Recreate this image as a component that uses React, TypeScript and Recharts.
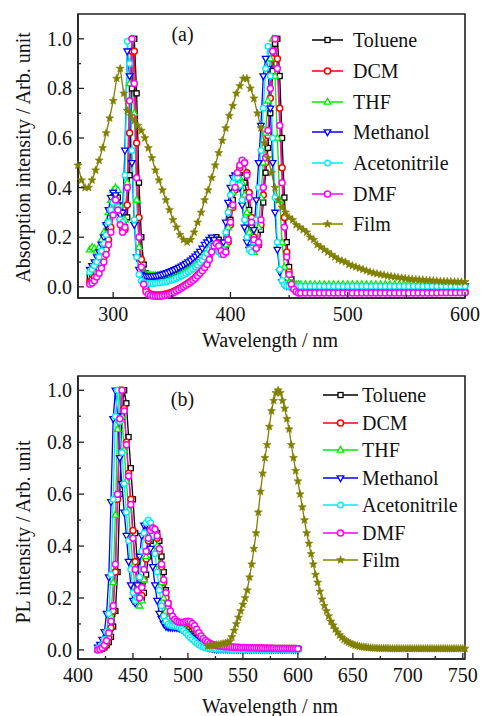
import React from 'react';
import { LineChart, Line, XAxis, YAxis, Legend, ReferenceArea } from 'recharts';

const FONT = "'Liberation Serif', 'Times New Roman', serif";
const AXIS = '#222';

// ---- (a) absorption, solutions ----
const absWavelengths = [
  280, 282, 284, 286, 288, 290, 292, 294, 296, 298,
  300, 302, 304, 306, 308, 310, 312, 314, 316, 318,
  320, 322, 324, 326, 328, 330, 332, 334, 336, 338,
  340, 342, 344, 346, 348, 350, 352, 354, 356, 358,
  360, 362, 364, 366, 368, 370, 372, 374, 376, 378,
  380, 382, 384, 386, 388, 390, 392, 394, 396, 398,
  400, 402, 404, 406, 408, 410, 412, 414, 416, 418,
  420, 422, 424, 426, 428, 430, 432, 434, 436, 438,
  440, 442, 444, 446, 448, 450, 452, 454, 456, 458,
  460, 464, 468, 472, 476, 480, 484, 488, 492, 496,
  500, 504, 508, 512, 516, 520, 524, 528, 532, 536,
  540, 544, 548, 552, 556, 560, 564, 568, 572, 576,
  580, 584, 588, 592, 596, 600,
];

const absToluene = [
  0.04, 0.05, 0.065, 0.08, 0.1, 0.12, 0.15, 0.19, 0.24, 0.3,
  0.36, 0.38, 0.36, 0.3, 0.26, 0.24, 0.28, 0.45, 0.8, 1.0,
  0.78, 0.42, 0.2, 0.09, 0.055, 0.045, 0.043, 0.042, 0.042, 0.042,
  0.043, 0.044, 0.045, 0.047, 0.05, 0.053, 0.057, 0.061, 0.066, 0.071,
  0.076, 0.082, 0.088, 0.094, 0.1, 0.107, 0.115, 0.125, 0.135, 0.15,
  0.165, 0.18, 0.19, 0.195, 0.2, 0.19, 0.17, 0.15, 0.15, 0.19,
  0.27, 0.35, 0.41, 0.44, 0.45, 0.44, 0.42, 0.38, 0.31, 0.24,
  0.19, 0.16, 0.17, 0.23, 0.34, 0.46, 0.56, 0.7, 0.87, 0.98,
  1.0, 0.85, 0.6, 0.36, 0.18, 0.08, 0.03, 0, -0.012, -0.018,
  -0.02, -0.02, -0.02, -0.02, -0.02, -0.02, -0.02, -0.02, -0.02, -0.02,
  -0.02, -0.02, -0.02, -0.02, -0.02, -0.02, -0.02, -0.02, -0.02, -0.02,
  -0.02, -0.02, -0.02, -0.02, -0.02, -0.02, -0.02, -0.02, -0.02, -0.02,
  -0.02, -0.02, -0.02, -0.02, -0.02, -0.02,
];

const absDCM = [
  0.02, 0.03, 0.04, 0.055, 0.07, 0.09, 0.12, 0.15, 0.19, 0.24,
  0.3, 0.35, 0.33, 0.27, 0.23, 0.23, 0.33, 0.62, 0.95, 0.95,
  0.58, 0.28, 0.11, 0.03, -0.01, -0.025, -0.03, -0.032, -0.033, -0.033,
  -0.033, -0.032, -0.03, -0.028, -0.025, -0.022, -0.018, -0.013, -0.008, -0.003,
  0.003, 0.009, 0.015, 0.022, 0.03, 0.038, 0.048, 0.058, 0.07, 0.083,
  0.095, 0.115, 0.145, 0.17, 0.18, 0.17, 0.15, 0.135, 0.14, 0.18,
  0.25, 0.32, 0.39, 0.45, 0.48, 0.5, 0.5, 0.46, 0.38, 0.28,
  0.2, 0.16, 0.17, 0.25, 0.37, 0.5, 0.61, 0.76, 0.92, 1.0,
  0.92, 0.72, 0.48, 0.28, 0.14, 0.06, 0.015, -0.008, -0.018, -0.02,
  -0.02, -0.02, -0.02, -0.02, -0.02, -0.02, -0.02, -0.02, -0.02, -0.02,
  -0.02, -0.02, -0.02, -0.02, -0.02, -0.02, -0.02, -0.02, -0.02, -0.02,
  -0.02, -0.02, -0.02, -0.02, -0.02, -0.02, -0.02, -0.02, -0.02, -0.02,
  -0.02, -0.02, -0.02, -0.02, -0.02, -0.02,
];

const absTHF = [
  0.15, 0.16, 0.155, 0.145, 0.16, 0.19, 0.22, 0.26, 0.3, 0.35,
  0.39, 0.4, 0.39, 0.33, 0.28, 0.27, 0.42, 0.82, 1.0, 0.7,
  0.35, 0.16, 0.08, 0.055, 0.05, 0.048, 0.047, 0.046, 0.046, 0.046,
  0.047, 0.048, 0.05, 0.052, 0.055, 0.058, 0.062, 0.066, 0.07, 0.075,
  0.08, 0.085, 0.09, 0.096, 0.102, 0.11, 0.118, 0.128, 0.14, 0.155,
  0.17, 0.18, 0.185, 0.18, 0.165, 0.15, 0.14, 0.14, 0.17, 0.24,
  0.32, 0.38, 0.42, 0.44, 0.44, 0.42, 0.37, 0.3, 0.22, 0.16,
  0.14, 0.16, 0.24, 0.36, 0.5, 0.62, 0.75, 0.92, 1.0, 0.85,
  0.6, 0.35, 0.18, 0.08, 0.035, 0.018, 0.012, 0.01, 0.01, 0.01,
  0.01, 0.01, 0.01, 0.01, 0.01, 0.01, 0.01, 0.01, 0.01, 0.01,
  0.01, 0.01, 0.01, 0.01, 0.01, 0.01, 0.01, 0.01, 0.01, 0.01,
  0.01, 0.01, 0.01, 0.01, 0.01, 0.01, 0.01, 0.01, 0.01, 0.01,
  0.01, 0.01, 0.01, 0.01, 0.01, 0.01,
];

const absMethanol = [
  0.07, 0.085, 0.1, 0.12, 0.14, 0.17, 0.2, 0.25, 0.31, 0.36,
  0.38, 0.37, 0.33, 0.29, 0.3, 0.55, 0.95, 0.85, 0.5, 0.25,
  0.12, 0.07, 0.05, 0.045, 0.043, 0.042, 0.042, 0.043, 0.044, 0.045,
  0.047, 0.05, 0.053, 0.056, 0.06, 0.064, 0.068, 0.073, 0.078, 0.083,
  0.088, 0.094, 0.1, 0.107, 0.115, 0.123, 0.132, 0.142, 0.155, 0.17,
  0.18, 0.19, 0.2, 0.19, 0.165, 0.145, 0.14, 0.18, 0.26, 0.34,
  0.4, 0.44, 0.45, 0.44, 0.4, 0.33, 0.24, 0.18, 0.15, 0.16,
  0.23, 0.35, 0.5, 0.65, 0.85, 0.92, 0.88, 0.72, 0.5, 0.3,
  0.15, 0.06, 0.02, 0.008, 0.004, 0.003, 0.003, 0.003, 0.003, 0.003,
  0.003, 0.003, 0.003, 0.003, 0.003, 0.003, 0.003, 0.003, 0.003, 0.003,
  0.003, 0.003, 0.003, 0.003, 0.003, 0.003, 0.003, 0.003, 0.003, 0.003,
  0.003, 0.003, 0.003, 0.003, 0.003, 0.003, 0.003, 0.003, 0.003, 0.003,
  0.003, 0.003, 0.003, 0.003, 0.003, 0.003,
];

const absAcetonitrile = [
  0.06, 0.07, 0.085, 0.1, 0.12, 0.145, 0.175, 0.21, 0.26, 0.31,
  0.34, 0.35, 0.32, 0.27, 0.26, 0.45, 0.99, 0.9, 0.55, 0.27,
  0.12, 0.05, 0.025, 0.017, 0.014, 0.013, 0.013, 0.013, 0.014, 0.015,
  0.016, 0.018, 0.02, 0.022, 0.025, 0.028, 0.031, 0.035, 0.039, 0.044,
  0.049, 0.054, 0.06, 0.066, 0.073, 0.08, 0.088, 0.097, 0.107, 0.12,
  0.135, 0.15, 0.165, 0.17, 0.16, 0.14, 0.13, 0.15, 0.22, 0.3,
  0.37, 0.42, 0.44, 0.44, 0.41, 0.35, 0.27, 0.2, 0.15, 0.14,
  0.18, 0.27, 0.4, 0.55, 0.72, 0.88, 0.97, 0.85, 0.6, 0.36,
  0.18, 0.07, 0.025, 0.008, 0.003, 0.002, 0.002, 0.002, 0.002, 0.002,
  0.002, 0.002, 0.002, 0.002, 0.002, 0.002, 0.002, 0.002, 0.002, 0.002,
  0.002, 0.002, 0.002, 0.002, 0.002, 0.002, 0.002, 0.002, 0.002, 0.002,
  0.002, 0.002, 0.002, 0.002, 0.002, 0.002, 0.002, 0.002, 0.002, 0.002,
  0.002, 0.002, 0.002, 0.002, 0.002, 0.002,
];

const absDMF = [
  0.01, 0.015, 0.025, 0.04, 0.055, 0.075, 0.1, 0.13, 0.17, 0.22,
  0.29, 0.35, 0.31, 0.25, 0.22, 0.24, 0.4, 0.75, 1.0, 0.82,
  0.44, 0.2, 0.08, 0.01, -0.02, -0.03, -0.035, -0.037, -0.038, -0.038,
  -0.038, -0.037, -0.035, -0.033, -0.03, -0.027, -0.022, -0.017, -0.012, -0.006,
  0, 0.006, 0.012, 0.02, 0.027, 0.035, 0.045, 0.055, 0.065, 0.078,
  0.09, 0.11, 0.14, 0.165, 0.175, 0.165, 0.145, 0.13, 0.14, 0.19,
  0.26, 0.33, 0.4, 0.46, 0.49, 0.51, 0.5, 0.45, 0.36, 0.26,
  0.19, 0.155, 0.18, 0.27, 0.4, 0.52, 0.63, 0.8, 0.95, 1.0,
  0.88, 0.65, 0.42, 0.24, 0.12, 0.05, 0.01, -0.01, -0.02, -0.025,
  -0.025, -0.025, -0.025, -0.025, -0.025, -0.025, -0.025, -0.025, -0.025, -0.025,
  -0.025, -0.025, -0.025, -0.025, -0.025, -0.025, -0.025, -0.025, -0.025, -0.025,
  -0.025, -0.025, -0.025, -0.025, -0.025, -0.025, -0.025, -0.025, -0.025, -0.025,
  -0.024, -0.024, -0.024, -0.024, -0.024, -0.024,
];

// ---- (a) absorption, film ----
const filmAbsWavelengths = [
  270, 273, 276, 279, 282, 285, 288, 291, 294, 297,
  300, 303, 306, 309, 312, 315, 318, 321, 324, 327,
  330, 333, 336, 339, 342, 345, 348, 351, 354, 357,
  360, 363, 366, 369, 372, 375, 378, 381, 384, 387,
  390, 393, 396, 399, 402, 405, 408, 411, 414, 417,
  420, 423, 426, 429, 432, 435, 438, 441, 444, 447,
  450, 453, 456, 459, 462, 465, 468, 471, 474, 477,
  480, 483, 486, 489, 492, 495, 498, 501, 504, 507,
  510, 513, 516, 519, 522, 525, 528, 531, 534, 537,
  540, 543, 546, 549, 552, 555, 558, 561, 564, 567,
  570, 573, 576, 579, 582, 585, 588, 591, 594, 597,
  600,
];

const filmAbs = [
  0.49, 0.43, 0.4, 0.4, 0.43, 0.47, 0.51, 0.56, 0.62, 0.68,
  0.75, 0.84, 0.88, 0.78, 0.71, 0.69, 0.67, 0.65, 0.63, 0.6,
  0.56, 0.52, 0.47, 0.43, 0.39, 0.35, 0.31, 0.27, 0.24, 0.21,
  0.19, 0.18, 0.19, 0.22, 0.26, 0.3, 0.35, 0.39, 0.44, 0.49,
  0.54, 0.59, 0.64, 0.69, 0.73, 0.78, 0.81, 0.84, 0.84, 0.8,
  0.76, 0.7, 0.64, 0.58, 0.52, 0.46, 0.4, 0.35, 0.32, 0.3,
  0.28, 0.27, 0.25, 0.24, 0.23, 0.22, 0.2, 0.19, 0.17, 0.16,
  0.15, 0.14, 0.13, 0.12, 0.11, 0.105, 0.1, 0.09, 0.085, 0.08,
  0.075, 0.07, 0.065, 0.06, 0.056, 0.053, 0.05, 0.047, 0.044, 0.042,
  0.04, 0.038, 0.036, 0.034, 0.032, 0.031, 0.03, 0.029, 0.028, 0.027,
  0.026, 0.025, 0.024, 0.023, 0.022, 0.022, 0.021, 0.021, 0.02, 0.02,
  0.02,
];

// ---- (b) PL, solutions ----
const plWavelengths = [
  418, 420, 422, 424, 426, 428, 430, 432, 434, 436,
  438, 440, 442, 444, 446, 448, 450, 452, 454, 456,
  458, 460, 462, 464, 466, 468, 470, 472, 474, 476,
  478, 480, 482, 484, 486, 488, 490, 492, 494, 496,
  498, 500, 502, 504, 506, 508, 510, 512, 514, 516,
  518, 520, 522, 524, 526, 528, 530, 532, 534, 536,
  538, 540, 542, 544, 546, 548, 550, 552, 554, 556,
  558, 560, 562, 564, 566, 568, 570, 572, 574, 576,
  578, 580, 582, 584, 586, 588, 590, 592, 594, 596,
  598, 600,
];

const plToluene = [
  0, 0.002, 0.005, 0.01, 0.018, 0.03, 0.05, 0.09, 0.15, 0.3,
  0.6, 0.9, 1.0, 0.95, 0.82, 0.7, 0.58, 0.45, 0.34, 0.25,
  0.2, 0.22, 0.29, 0.36, 0.42, 0.45, 0.46, 0.45, 0.42, 0.36,
  0.3, 0.23, 0.18, 0.14, 0.12, 0.11, 0.105, 0.104, 0.104, 0.105,
  0.105, 0.104, 0.1, 0.09, 0.078, 0.064, 0.05, 0.04, 0.032, 0.026,
  0.021, 0.017, 0.014, 0.012, 0.011, 0.01, 0.009, 0.009, 0.008, 0.008,
  0.008, 0.007, 0.007, 0.007, 0.006, 0.006, 0.006, 0.006, 0.005, 0.005,
  0.005, 0.005, 0.005, 0.005, 0.005, 0.005, 0.005, 0.005, 0.005, 0.005,
  0.004, 0.004, 0.004, 0.004, 0.004, 0.004, 0.004, 0.004, 0.004, 0.004,
  0.004, 0.004,
];

const plDCM = [
  0.002, 0.004, 0.008, 0.015, 0.027, 0.048, 0.085, 0.15, 0.3, 0.58,
  0.88, 1.0, 0.93, 0.8, 0.68, 0.58, 0.46, 0.34, 0.25, 0.2,
  0.21, 0.27, 0.35, 0.42, 0.46, 0.47, 0.46, 0.43, 0.38, 0.32,
  0.26, 0.2, 0.16, 0.13, 0.115, 0.108, 0.105, 0.104, 0.104, 0.105,
  0.105, 0.104, 0.1, 0.092, 0.08, 0.066, 0.053, 0.042, 0.034, 0.028,
  0.023, 0.019, 0.016, 0.014, 0.013, 0.012, 0.011, 0.011, 0.01, 0.01,
  0.01, 0.009, 0.009, 0.009, 0.008, 0.008, 0.008, 0.008, 0.007, 0.007,
  0.007, 0.007, 0.006, 0.006, 0.006, 0.006, 0.006, 0.006, 0.005, 0.005,
  0.005, 0.005, 0.005, 0.005, 0.005, 0.005, 0.005, 0.005, 0.005, 0.005,
  0.004, 0.004,
];

const plTHF = [
  0.003, 0.006, 0.012, 0.022, 0.04, 0.07, 0.13, 0.26, 0.52, 0.85,
  1.0, 0.9, 0.77, 0.65, 0.54, 0.43, 0.32, 0.23, 0.185, 0.17,
  0.19, 0.27, 0.36, 0.43, 0.47, 0.47, 0.45, 0.4, 0.33, 0.26,
  0.2, 0.15, 0.12, 0.105, 0.1, 0.097, 0.095, 0.093, 0.09, 0.085,
  0.078, 0.07, 0.06, 0.05, 0.041, 0.033, 0.026, 0.02, 0.015, 0.011,
  0.008, 0.006, 0.005, 0.005, 0.004, 0.004, 0.004, 0.004, 0.004, 0.004,
  0.003, 0.003, 0.003, 0.003, 0.003, 0.003, 0.003, 0.003, 0.003, 0.003,
  0.003, 0.003, 0.003, 0.003, 0.003, 0.003, 0.003, 0.003, 0.003, 0.003,
  0.003, 0.003, 0.003, 0.003, 0.003, 0.003, 0.003, 0.003, 0.003, 0.003,
  0.003, 0.003,
];

const plMethanol = [
  0.01, 0.02, 0.04, 0.07, 0.14, 0.28, 0.57, 0.89, 1.0, 0.9,
  0.74, 0.64, 0.53, 0.44, 0.34, 0.25, 0.19, 0.18, 0.25, 0.36,
  0.44, 0.48, 0.48, 0.45, 0.39, 0.32, 0.25, 0.19, 0.14, 0.12,
  0.1, 0.09, 0.087, 0.086, 0.086, 0.086, 0.085, 0.083, 0.08, 0.075,
  0.07, 0.062, 0.055, 0.047, 0.04, 0.033, 0.027, 0.022, 0.018, 0.014,
  0.01, 0.007, 0.005, 0.004, 0.003, 0.003, 0.003, 0.003, 0.003, 0.003,
  0.002, 0.002, 0.002, 0.002, 0.002, 0.002, 0.002, 0.002, 0.002, 0.002,
  0.002, 0.002, 0.002, 0.002, 0.002, 0.002, 0.002, 0.002, 0.002, 0.002,
  0.002, 0.002, 0.002, 0.002, 0.002, 0.002, 0.002, 0.002, 0.002, 0.002,
  0.002, 0.002,
];

const plAcetonitrile = [
  0.005, 0.01, 0.02, 0.04, 0.07, 0.14, 0.29, 0.58, 0.9, 1.0,
  0.88, 0.76, 0.64, 0.53, 0.42, 0.31, 0.22, 0.19, 0.2, 0.28,
  0.38, 0.45, 0.49, 0.5, 0.49, 0.44, 0.37, 0.3, 0.23, 0.17,
  0.13, 0.11, 0.1, 0.095, 0.093, 0.092, 0.09, 0.087, 0.082, 0.075,
  0.066, 0.057, 0.048, 0.04, 0.033, 0.026, 0.02, 0.015, 0.011, 0.008,
  0.006, 0.005, 0.004, 0.004, 0.003, 0.003, 0.003, 0.003, 0.003, 0.003,
  0.002, 0.002, 0.002, 0.002, 0.002, 0.002, 0.002, 0.002, 0.002, 0.002,
  0.002, 0.002, 0.002, 0.002, 0.002, 0.002, 0.002, 0.002, 0.002, 0.002,
  0.002, 0.002, 0.002, 0.002, 0.002, 0.002, 0.002, 0.002, 0.002, 0.002,
  0.002, 0.002,
];

const plDMF = [
  0, 0.003, 0.008, 0.018, 0.035, 0.065, 0.11, 0.17, 0.33, 0.6,
  0.89, 1.0, 0.92, 0.79, 0.67, 0.56, 0.43, 0.31, 0.23, 0.2,
  0.24, 0.31, 0.38, 0.43, 0.46, 0.47, 0.465, 0.44, 0.39, 0.33,
  0.27, 0.22, 0.18, 0.15, 0.13, 0.118, 0.11, 0.107, 0.106, 0.107,
  0.109, 0.11, 0.108, 0.102, 0.093, 0.08, 0.066, 0.054, 0.044, 0.036,
  0.03, 0.025, 0.022, 0.019, 0.017, 0.015, 0.014, 0.013, 0.012, 0.012,
  0.011, 0.011, 0.01, 0.01, 0.01, 0.009, 0.009, 0.009, 0.008, 0.008,
  0.008, 0.008, 0.007, 0.007, 0.007, 0.007, 0.006, 0.006, 0.006, 0.006,
  0.006, 0.005, 0.005, 0.005, 0.005, 0.005, 0.005, 0.005, 0.005, 0.005,
  0.005, 0.004,
];

// ---- (b) PL, film ----
const filmPlWavelengths = [
  518, 520, 522, 524, 526, 528, 530, 532, 534, 536,
  538, 540, 542, 544, 546, 548, 550, 552, 554, 556,
  558, 560, 562, 564, 566, 568, 570, 572, 574, 576,
  578, 580, 582, 584, 586, 588, 590, 592, 594, 596,
  598, 600, 602, 604, 606, 608, 610, 612, 614, 616,
  618, 620, 622, 624, 626, 628, 630, 632, 634, 636,
  638, 640, 642, 644, 646, 648, 650, 652, 654, 656,
  658, 660, 662, 664, 666, 668, 670, 672, 674, 676,
  678, 680, 682, 684, 686, 688, 690, 692, 694, 696,
  698, 700, 702, 704, 706, 708, 710, 712, 714, 716,
  718, 720, 722, 724, 726, 728, 730, 732, 734, 736,
  738, 740, 742, 744, 746, 748, 750, 752,
];

const filmPl = [
  0.015, 0.016, 0.017, 0.018, 0.019, 0.02, 0.022, 0.024, 0.026, 0.029,
  0.032, 0.05, 0.075, 0.1, 0.125, 0.15, 0.175, 0.2, 0.23, 0.28,
  0.33, 0.39, 0.45, 0.53, 0.61, 0.68, 0.74, 0.79, 0.86, 0.92,
  0.96, 0.99, 1.0, 0.99, 0.96, 0.93, 0.89, 0.85, 0.79, 0.74,
  0.69, 0.65, 0.6, 0.55, 0.5, 0.45, 0.41, 0.37, 0.33, 0.29,
  0.26, 0.225, 0.195, 0.17, 0.15, 0.13, 0.11, 0.095, 0.08, 0.068,
  0.057, 0.048, 0.04, 0.034, 0.029, 0.025, 0.021, 0.018, 0.016, 0.014,
  0.012, 0.011, 0.01, 0.009, 0.008, 0.008, 0.007, 0.007, 0.006, 0.006,
  0.006, 0.006, 0.006, 0.005, 0.005, 0.005, 0.005, 0.005, 0.005, 0.005,
  0.005, 0.005, 0.005, 0.005, 0.005, 0.005, 0.005, 0.005, 0.005, 0.005,
  0.005, 0.005, 0.005, 0.005, 0.005, 0.005, 0.005, 0.005, 0.005, 0.005,
  0.005, 0.005, 0.005, 0.005, 0.005, 0.005, 0.005, 0.005,
];

// ticks (minor ones get no label)
const absXTicks = [300, 350, 400, 450, 500, 550, 600];
const plXTicks = [400, 425, 450, 475, 500, 525, 550, 575, 600, 625, 650, 675, 700, 725, 750];
const yTicks = [0, 0.1, 0.2, 0.3, 0.4, 0.5, 0.6, 0.7, 0.8, 0.9, 1.0];

type Shape = 'square' | 'circle' | 'up' | 'down' | 'hex' | 'star';

const SERIES: { key: string; name: string; color: string; shape: Shape }[] = [
  { key: 'toluene', name: 'Toluene', color: '#000000', shape: 'square' },
  { key: 'dcm', name: 'DCM', color: '#ff0000', shape: 'circle' },
  { key: 'thf', name: 'THF', color: '#00ee00', shape: 'up' },
  { key: 'methanol', name: 'Methanol', color: '#0000ff', shape: 'down' },
  { key: 'acetonitrile', name: 'Acetonitrile', color: '#00eeee', shape: 'hex' },
  { key: 'dmf', name: 'DMF', color: '#ff00ff', shape: 'circle' },
  { key: 'film', name: 'Film', color: '#808000', shape: 'star' },
];

const zip = (xs: number[], ys: number[]) => xs.map((x, i) => ({ x, y: ys[i] }));

const absData: Record<string, { x: number; y: number }[]> = {
  toluene: zip(absWavelengths, absToluene),
  dcm: zip(absWavelengths, absDCM),
  thf: zip(absWavelengths, absTHF),
  methanol: zip(absWavelengths, absMethanol),
  acetonitrile: zip(absWavelengths, absAcetonitrile),
  dmf: zip(absWavelengths, absDMF),
  film: zip(filmAbsWavelengths, filmAbs),
};

const plData: Record<string, { x: number; y: number }[]> = {
  toluene: zip(plWavelengths, plToluene),
  dcm: zip(plWavelengths, plDCM),
  thf: zip(plWavelengths, plTHF),
  methanol: zip(plWavelengths, plMethanol),
  acetonitrile: zip(plWavelengths, plAcetonitrile),
  dmf: zip(plWavelengths, plDMF),
  film: zip(filmPlWavelengths, filmPl),
};

function starPoints(cx: number, cy: number, ro: number, ri: number) {
  const pts: string[] = [];
  for (let i = 0; i < 10; i++) {
    const r = i % 2 === 0 ? ro : ri;
    const a = -Math.PI / 2 + (i * Math.PI) / 5;
    pts.push(`${cx + r * Math.cos(a)},${cy + r * Math.sin(a)}`);
  }
  return pts.join(' ');
}

function Marker({ shape, cx, cy, color }: { shape: Shape; cx: number; cy: number; color: string }) {
  if (cx == null || cy == null || isNaN(cx) || isNaN(cy)) return null;
  switch (shape) {
    case 'square':
      return <rect x={cx - 2.5} y={cy - 2.5} width={5} height={5} fill="#fff" stroke={color} strokeWidth={1.3} />;
    case 'up':
      return (
        <polygon
          points={`${cx},${cy - 3.6} ${cx + 3.3},${cy + 2.2} ${cx - 3.3},${cy + 2.2}`}
          fill="#fff" stroke={color} strokeWidth={1.3}
        />
      );
    case 'down':
      return (
        <polygon
          points={`${cx},${cy + 3.6} ${cx + 3.3},${cy - 2.2} ${cx - 3.3},${cy - 2.2}`}
          fill="#fff" stroke={color} strokeWidth={1.3}
        />
      );
    case 'star':
      return <polygon points={starPoints(cx, cy, 4.2, 1.8)} fill={color} stroke={color} strokeWidth={0.6} />;
    case 'hex':
      return <circle cx={cx} cy={cy} r={2.8} fill="#fff" stroke={color} strokeWidth={1.4} />;
    default:
      return <circle cx={cx} cy={cy} r={3} fill="#fff" stroke={color} strokeWidth={1.5} />;
  }
}

function LegendRows({ rowH, lineW, gap }: { rowH: number; lineW: number; gap: number }) {
  return (
    <div style={{ fontFamily: FONT, fontSize: 20, color: '#111' }}>
      {SERIES.map(s => (
        <div key={s.key} style={{ display: 'flex', alignItems: 'center', height: rowH }}>
          <svg width={lineW} height={12} style={{ overflow: 'visible' }}>
            <line x1={0} y1={6} x2={lineW} y2={6} stroke={s.color} strokeWidth={1.5} />
            <Marker shape={s.shape} cx={lineW / 2} cy={6} color={s.color} />
          </svg>
          <span style={{ marginLeft: gap, lineHeight: 1, whiteSpace: 'nowrap' }}>{s.name}</span>
        </div>
      ))}
    </div>
  );
}

const makeXTick = (majorStep: number) => (props: any) => {
  const { x, y, payload } = props;
  const v = payload.value;
  const major = v % majorStep === 0;
  return (
    <g>
      <line x1={x} y1={y} x2={x} y2={y - (major ? 6 : 3)} stroke={AXIS} strokeWidth={1.3} />
      {major && (
        <text x={x} y={y + 22.7} textAnchor="middle" fontFamily={FONT} fontSize={20} fill="#111">
          {v}
        </text>
      )}
    </g>
  );
};

const YTick = (props: any) => {
  const { x, y, payload } = props;
  const v = payload.value;
  const major = Math.round(v * 10) % 2 === 0;
  return (
    <g>
      <line x1={x} y1={y} x2={x + (major ? 6 : 3)} y2={y} stroke={AXIS} strokeWidth={1.3} />
      {major && (
        <text x={x - 6} y={y + 7} textAnchor="end" fontFamily={FONT} fontSize={20} fill="#111">
          {v.toFixed(1)}
        </text>
      )}
    </g>
  );
};

function Panel(props: {
  data: Record<string, { x: number; y: number }[]>;
  marginTop: number;
  xAxisHeight: number;
  xDomain: [number, number];
  xTicks: number[];
  majorStep: number;
  yDomain: [number, number];
  legendTop: number;
  legendLeft: number;
  rowH: number;
  lineW: number;
  gap: number;
}) {
  const { data, marginTop, xAxisHeight, xDomain, xTicks, majorStep, yDomain } = props;
  return (
    <LineChart width={484} height={358} margin={{ top: marginTop, right: 19, bottom: 0, left: 0 }}>
      <XAxis
        dataKey="x"
        type="number"
        domain={xDomain}
        ticks={xTicks}
        interval={0}
        height={xAxisHeight}
        tickSize={0}
        tickMargin={0}
        tickLine={false}
        tick={makeXTick(majorStep)}
        axisLine={{ stroke: AXIS, strokeWidth: 1.6 }}
      />
      <YAxis
        type="number"
        domain={yDomain}
        ticks={yTicks}
        interval={0}
        width={78}
        tickSize={0}
        tickMargin={0}
        tickLine={false}
        tick={YTick}
        axisLine={{ stroke: AXIS, strokeWidth: 1.6 }}
      />
      <ReferenceArea
        x1={xDomain[0]}
        x2={xDomain[1]}
        y1={yDomain[0]}
        y2={yDomain[1]}
        fill="none"
        fillOpacity={0}
        stroke={AXIS}
        strokeWidth={1.6}
      />
      {SERIES.map(s => (
        <Line
          key={s.key}
          data={data[s.key]}
          dataKey="y"
          name={s.name}
          type="linear"
          stroke={s.color}
          strokeWidth={1.3}
          isAnimationActive={false}
          activeDot={false}
          dot={(p: any) => (
            <Marker key={`${s.key}-${p.index}`} shape={s.shape} cx={p.cx} cy={p.cy} color={s.color} />
          )}
        />
      ))}
      <Legend
        layout="vertical"
        verticalAlign="middle"
        align="center"
        wrapperStyle={{ left: props.legendLeft, top: props.legendTop, width: 484 - props.legendLeft }}
        content={() => <LegendRows rowH={props.rowH} lineW={props.lineW} gap={props.gap} />}
      />
    </LineChart>
  );
}

export default function App() {
  return (
    <div style={{ position: 'absolute', left: 0, top: 0, width: 484, height: 716, background: '#fff', overflow: 'hidden' }}>
      <div style={{ position: 'absolute', left: 0, top: 0 }}>
        <Panel
          data={absData}
          marginTop={14}
          xAxisHeight={60}
          xDomain={[270, 600]}
          xTicks={absXTicks}
          majorStep={100}
          yDomain={[-0.045, 1.1]}
          legendTop={25}
          legendLeft={312}
          rowH={30.7}
          lineW={31}
          gap={10}
        />
      </div>
      <div style={{ position: 'absolute', left: 0, top: 358 }}>
        <Panel
          data={plData}
          marginTop={18}
          xAxisHeight={57}
          xDomain={[400, 752]}
          xTicks={plXTicks}
          majorStep={50}
          yDomain={[-0.035, 1.055]}
          legendTop={23.3}
          legendLeft={323}
          rowH={27.5}
          lineW={35}
          gap={4}
        />
      </div>
      <svg
        width={484}
        height={716}
        style={{ position: 'absolute', left: 0, top: 0, pointerEvents: 'none' }}
        fontFamily={FONT}
        fontSize={20}
        fill="#111"
      >
        <text x={182.5} y={40.7} textAnchor="middle">(a)</text>
        <text x={182.5} y={406} textAnchor="middle">(b)</text>
        <text x={270} y={346.7} textAnchor="middle">Wavelength / nm</text>
        <text x={270} y={713} textAnchor="middle">Wavelength / nm</text>
        <text x={30} y={157.5} textAnchor="middle" transform="rotate(-90 30 157.5)">
          Absorption intensity / Arb. unit
        </text>
        <text x={30} y={532} textAnchor="middle" transform="rotate(-90 30 532)">
          PL intensity / Arb. unit
        </text>
      </svg>
    </div>
  );
}
